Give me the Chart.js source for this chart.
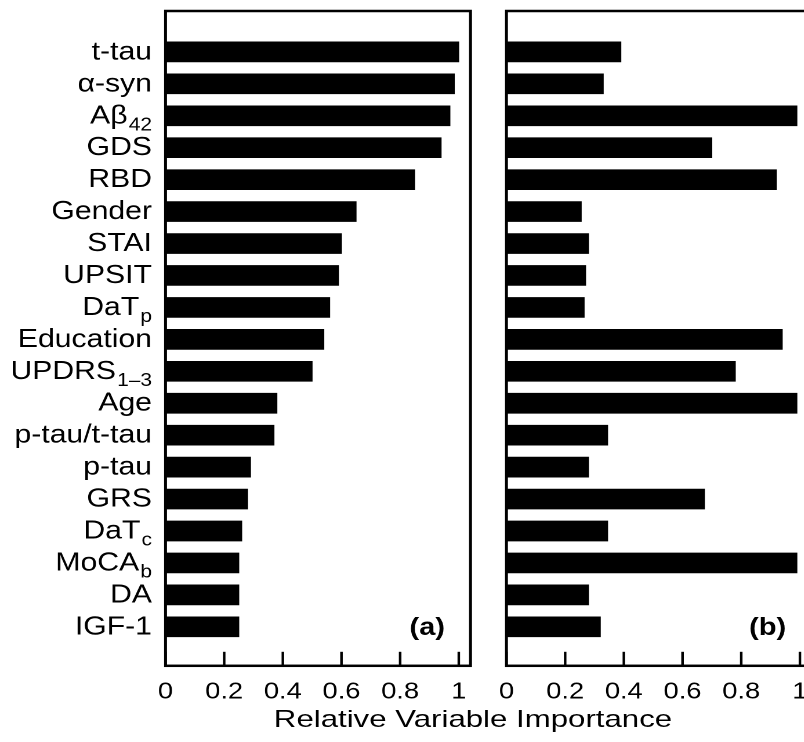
<!DOCTYPE html>
<html>
<head>
<meta charset="utf-8">
<script src="https://cdn.jsdelivr.net/npm/chart.js@4"></script>
<style>
  html, body { margin: 0; padding: 0; background: #fff; overflow: hidden; width: 804px; height: 742px; }
  #wrap { position: absolute; left: 0; top: 0; width: 722px; height: 742px; transform: scaleX(1.16); transform-origin: 0 0; }
  #chartA { position: absolute; left: 0; top: 0; }
  #chartB { position: absolute; left: 400px; top: 0; }
  #xtitle {
    position: absolute; left: 473px; top: 705px; line-height: 28px;
    font: 24px "Liberation Sans", Arial, Helvetica, sans-serif; color: #000;
    white-space: nowrap; transform: translateX(-50%) scaleX(1.3); transform-origin: 50% 50%;
  }
</style>
</head>
<body>
<div id="wrap">
  <canvas id="chartA" width="422" height="742"></canvas>
  <canvas id="chartB" width="322" height="742"></canvas>
</div>
<div id="xtitle">Relative Variable Importance</div>

<script>
// ================= DATA =================
const labels = ["t-tau", "α-syn", "Aβ", "GDS", "RBD", "Gender", "STAI", "UPSIT", "DaT", "Education",
  "UPDRS", "Age", "p-tau/t-tau", "p-tau", "GRS", "DaT", "MoCA", "DA", "IGF-1"];
const subscripts = ["", "", "42", "", "", "", "", "", "p", "", "1–3", "", "", "", "", "c", "b", "", ""];
const valuesA = [1.0, 0.985, 0.97, 0.94, 0.85, 0.65, 0.60, 0.59, 0.56, 0.54,
  0.50, 0.38, 0.37, 0.29, 0.28, 0.26, 0.25, 0.25, 0.25];
const valuesB = [0.39, 0.33, 0.99, 0.70, 0.92, 0.255, 0.28, 0.27, 0.265, 0.94,
  0.78, 0.99, 0.345, 0.28, 0.675, 0.345, 0.99, 0.28, 0.32];
const xTicks = [0, 0.2, 0.4, 0.6, 0.8, 1];
const panelNames = ["(a)", "(b)"];

const FONT = '"Liberation Sans", Arial, Helvetica, sans-serif';

// ================= PLUGINS =================
// frame round the plot area + tick marks pointing inwards + panel letter
const framePlugin = {
  id: "frame",
  afterDatasetsDraw(chart, args, opts) {
    const { ctx, chartArea: a, scales } = chart;
    ctx.save();
    ctx.strokeStyle = "#000";
    ctx.lineWidth = 2.5;
    ctx.strokeRect(a.left, a.top, a.right - a.left, a.bottom - a.top);

    ctx.lineWidth = 2.2;
    xTicks.forEach(v => {
      const px = scales.x.getPixelForValue(v);
      ctx.beginPath();
      ctx.moveTo(px, a.bottom);
      ctx.lineTo(px, a.bottom - 14);
      ctx.stroke();
    });

    ctx.fillStyle = "#000";
    ctx.font = "bold 25px " + FONT;
    ctx.textAlign = "right";
    ctx.textBaseline = "alphabetic";
    ctx.fillText(opts.name, a.right - 22, a.bottom - 31);
    ctx.restore();
  }
};

// category names with subscripts, placed on the y scale
const labelPlugin = {
  id: "catLabels",
  afterDraw(chart) {
    const { ctx, chartArea: a, scales } = chart;
    const right = a.left - 11.7;
    ctx.save();
    ctx.fillStyle = "#000";
    ctx.textBaseline = "alphabetic";
    ctx.textAlign = "left";
    labels.forEach((lab, i) => {
      const y = scales.y.getPixelForValue(i) + 7.5;
      ctx.font = "26px " + FONT;
      const wMain = ctx.measureText(lab).width;
      let wSub = 0;
      if (subscripts[i]) {
        ctx.font = "18px " + FONT;
        wSub = ctx.measureText(subscripts[i]).width + 1;
      }
      const x0 = right - wMain - wSub;
      ctx.font = "26px " + FONT;
      ctx.fillText(lab, x0, y);
      if (subscripts[i]) {
        ctx.font = "18px " + FONT;
        ctx.fillText(subscripts[i], x0 + wMain + 1, y + 7);
      }
    });
    ctx.restore();
  }
};

// ================= CHART FACTORY =================
function makeChart(id, values, name, padding, extraPlugins) {
  const ctx = document.getElementById(id);
  return new Chart(ctx.getContext("2d"), {
    type: "bar",
    data: {
      datasets: [{
        data: values.map((v, i) => ({ x: v, y: i })),
        backgroundColor: "#000",
        borderWidth: 0,
        barThickness: 20
      }]
    },
    options: {
      indexAxis: "y",
      responsive: false,
      animation: false,
      devicePixelRatio: 2,
      layout: { padding: padding },
      plugins: {
        legend: { display: false },
        tooltip: { enabled: false },
        frame: { name: name }
      },
      scales: {
        y: {
          type: "linear",
          display: false,
          reverse: true,
          offset: false,
          min: -1.28,
          max: 19.22
        },
        x: {
          type: "linear",
          min: 0,
          max: 1.04,
          offset: false,
          grid: { display: false, drawTicks: false },
          border: { display: false },
          ticks: {
            stepSize: 0.2,
            includeBounds: false,
            padding: 12,
            color: "#000",
            font: { family: FONT, size: 23.5 },
            maxRotation: 0,
            callback: v => String(Math.round(v * 10) / 10)
          }
        }
      }
    },
    plugins: [framePlugin].concat(extraPlugins)
  });
}

window.onload = () => {
  makeChart("chartA", valuesA, panelNames[0], { left: 142.7, right: 16.4, top: 11, bottom: 24 }, [labelPlugin]);
  makeChart("chartB", valuesB, panelNames[1], { left: 36.6, right: 22.3, top: 11, bottom: 24 }, []);
};
</script>
</body>
</html>
